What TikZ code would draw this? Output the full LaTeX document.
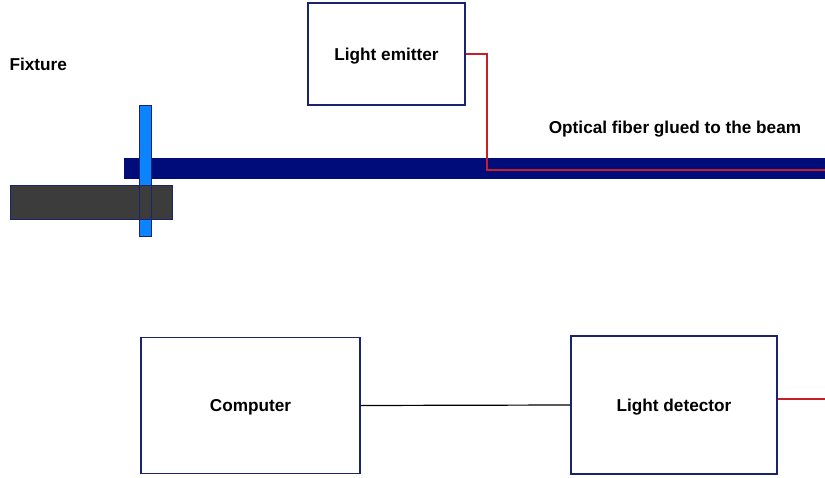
\documentclass[tikz,border=0pt]{standalone}
\usepackage{fontspec}
\setmainfont{Liberation Sans}
\usepackage{xcolor}
\usepackage{tikz}
\usetikzlibrary{positioning}

\definecolor{beamblue}{RGB}{0,12,122}
\definecolor{edgeblue}{RGB}{26,35,110}
\definecolor{clampblue}{RGB}{12,132,255}
\definecolor{blockgray}{RGB}{60,60,60}
\definecolor{fiberred}{RGB}{200,30,40}

\begin{document}
\begin{tikzpicture}[
      x=1pt, y=-1pt,
      lbl/.style={font=\fontsize{17.2}{20}\selectfont\bfseries},
      box/.style={draw=edgeblue, line width=1.3pt, fill=white, lbl, inner sep=0pt, text depth=0pt},
      part/.style={draw=edgeblue, line width=1pt},
      fiber/.style={draw=fiberred, line width=1.3pt},
      wire/.style={draw=black, line width=1.2pt}
    ]
    \useasboundingbox (0,0) rectangle (825,478);

    % beam and fixture
    \fill[beamblue] (124,158) rectangle (830,179);
    \filldraw[part, fill=clampblue] (139,106) rectangle (151,237);
    \filldraw[part, fill=blockgray] (10,186) rectangle (172,220);
    \draw[part] (139,186) -- (139,220) (151,186) -- (151,220);
    \node[lbl, anchor=west] (fix) at (6,64) {Fixture};

    % boxes
    \node[box, minimum width=157pt, minimum height=102pt] (emit) at (386.5,54) {Light emitter};
    \node[box, minimum width=219pt, minimum height=136pt] (comp) at (250.5,405.5) {Computer};
    \node[box, minimum width=206pt, minimum height=138pt] (det) at (674,405) {Light detector};
    \node[lbl] (fibtext) at (675,129) {Optical fiber glued to the beam};

    % connections
    \coordinate (bend) at (487,170);
    \coordinate (fibEnd) at (826,170);
    \coordinate (detOut) at (826,399);
    \draw[fiber] (emit.east) -| (bend) -- (fibEnd);
    \draw[wire] (comp.east) -- (det.west);
    \draw[fiber] ([yshift=6pt]det.east) -- (detOut);
  \end{tikzpicture}
\end{document}
